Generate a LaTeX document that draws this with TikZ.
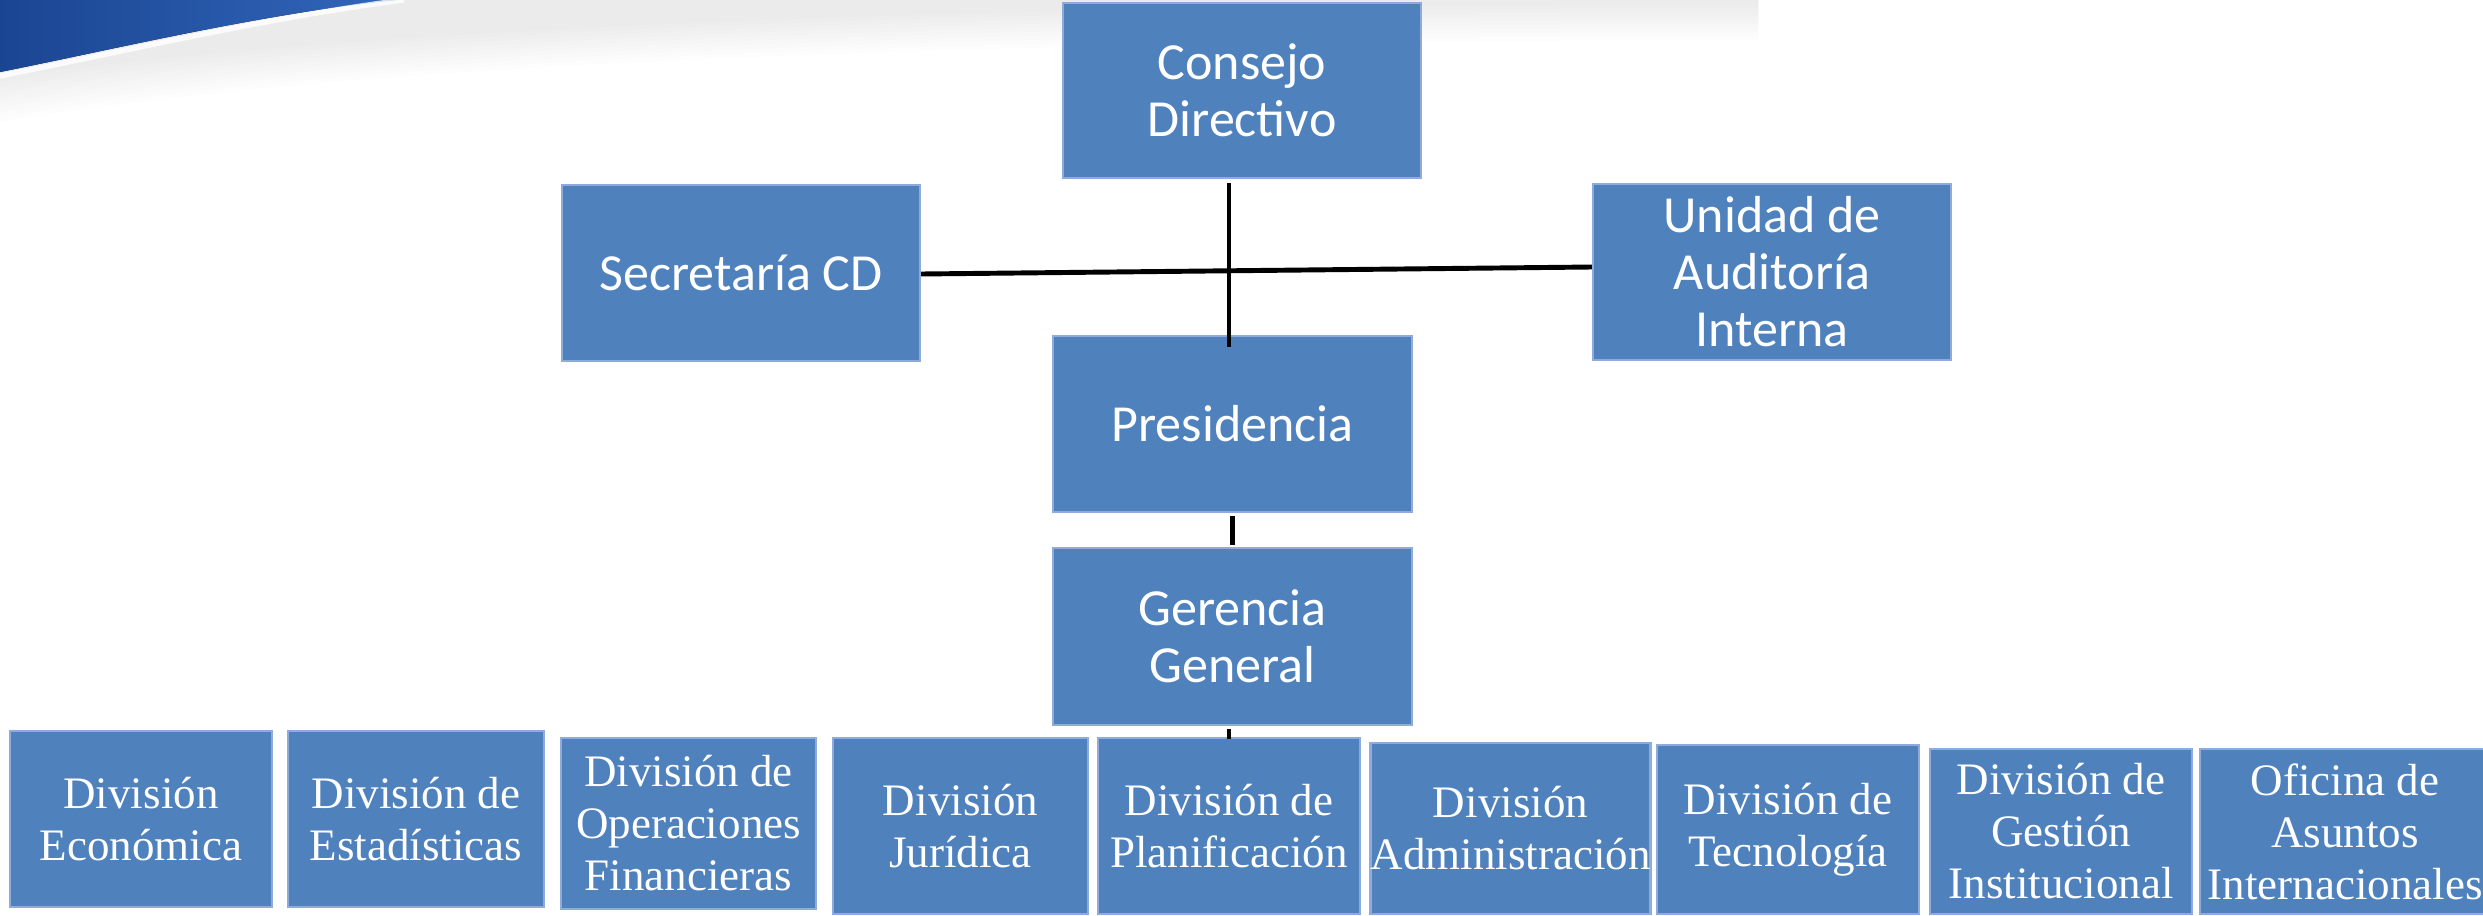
\documentclass[tikz,border=0pt]{standalone}
\usepackage{fontspec}
\setmainfont{Liberation Serif}
\newfontfamily\calibri{Carlito}
\usepackage{tikz}
\usetikzlibrary{calc,math}
\definecolor{boxblue}{HTML}{4F81BD}
\definecolor{boxrim}{HTML}{8FAADC}
\definecolor{swoopdark}{HTML}{1A4592}
\definecolor{swooplight}{HTML}{3266BA}

\begin{document}
\begin{tikzpicture}
[x=0.01cm,y=-0.01cm,
 topbox/.style={fill=boxblue,draw=boxrim,line width=0.6pt,text=white,align=center,inner sep=0pt,minimum width=3.58cm,minimum height=1.76cm,font=\calibri\fontsize{14.8}{16.2}\selectfont},
 divbox/.style={fill=boxblue,draw=boxrim,line width=0.6pt,text=white,align=center,inner sep=0pt,minimum height=1.76cm,font=\fontsize{12.8}{14.8}\selectfont},
 link/.style={black,line width=1.4pt},]

\useasboundingbox (0,0) rectangle (2483,915);
\fill[white] (0,0) rectangle (2483,915);

%Swoosh at the top and its shadow
\foreach \k in {1,...,10}
  \fill[gray,opacity=0.014] (0,0) -- (0,{72+5*\k}) .. controls (250,{40+4*\k}) and (700,{4*\k}) .. (1758,{4*\k}) -- (1758,0) -- cycle;
\fill[left color=swoopdark,right color=swooplight] (0,0) -- (0,72) .. controls (120,48) and (260,14) .. (396,0) -- cycle;
\draw[white,line width=1.5pt,opacity=0.8] (0,76) .. controls (122,52) and (264,18) .. (404,0);

%Top levels
\node (CD) at (1242,90.5)[topbox,minimum height=1.75cm] {Consejo\\Directivo};
\node (SCD) at (741,273)[topbox] {Secretaría CD};
\node (UAI) at (1772,272)[topbox] {Unidad de\\Auditoría\\Interna};
\node (PR) at (1232.5,424)[topbox,minimum width=3.59cm] {Presidencia};
\node (GG) at (1232.5,636.5)[topbox,minimum width=3.59cm,minimum height=1.77cm] {Gerencia\\General};

%Divisions
\node (DE) at (141,819)[divbox,minimum width=2.62cm] {División\\Económica};
\node (DES) at (416,819)[divbox,minimum width=2.56cm] {División de\\Estadísticas};
\node (DOF) at (688.5,823.5)[divbox,minimum width=2.55cm,minimum height=1.71cm] {División de\\Operaciones\\Financieras};
\node (DJ) at (960.5,826)[divbox,minimum width=2.55cm] {División\\Jurídica};
\node (DP) at (1229,826)[divbox,minimum width=2.62cm] {División de\\Planificación};
\node (DA) at (1510.5,828.5)[divbox,minimum width=2.73cm,minimum height=1.71cm] {División\\Administración};
\node (DT) at (1788,829.5)[divbox,minimum width=2.62cm,minimum height=1.69cm] {División de\\Tecnología};
\node (DGI) at (2061,831.5)[divbox,minimum width=2.62cm,minimum height=1.65cm] {División de\\Gestión\\Institucional};
\node (OAI) at (2345,831.5)[divbox,minimum width=2.9cm,minimum height=1.65cm] {Oficina de\\Asuntos\\Internacionales};

%Links
\draw[link] ([shift={(0,1)}]SCD.east) -- ([shift={(0,-5)}]UAI.west);
\draw[link] ([shift={(-13,4)}]CD.south) -- ([shift={(-3.5,12)}]PR.north);
\draw[link] ([shift={(0,3)}]PR.south) -- ([shift={(0,-2)}]GG.north);
\draw[link] ([shift={(-3.5,3)}]GG.south) -- ([shift={(0,2)}]DP.north);

\end{tikzpicture}
\end{document}
